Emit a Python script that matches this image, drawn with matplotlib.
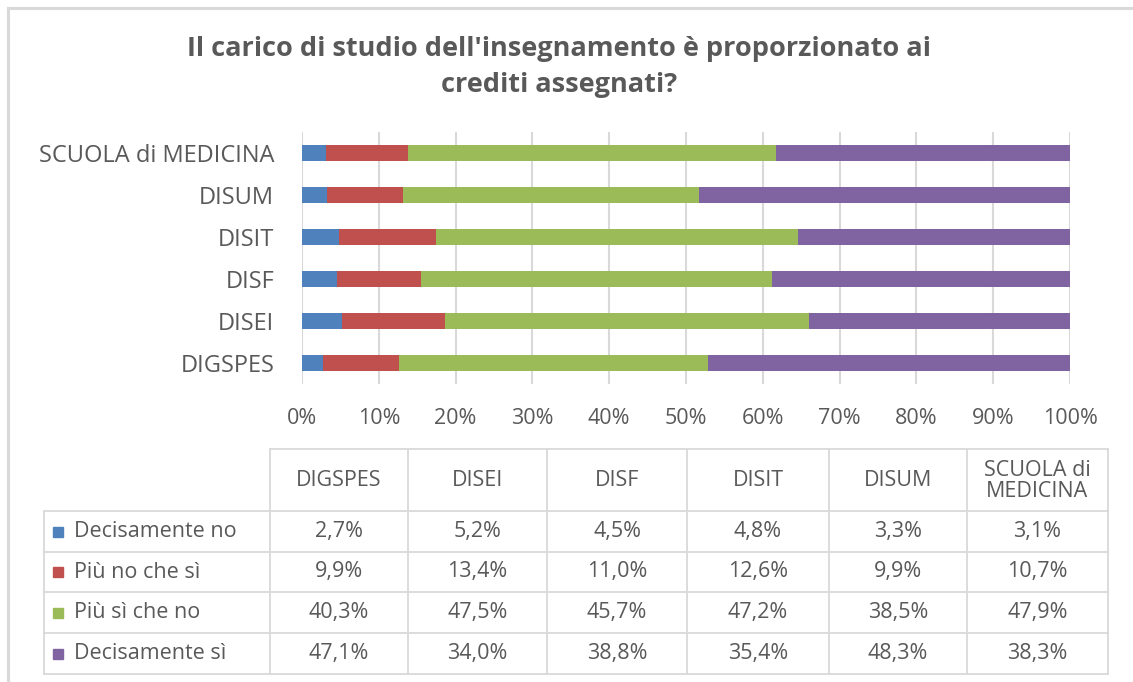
import matplotlib.pyplot as plt
import numpy as np

plt.rcParams['font.family'] = ['Open Sans', 'DejaVu Sans']

departments = ['DIGSPES', 'DISEI', 'DISF', 'DISIT', 'DISUM', 'SCUOLA di MEDICINA']
header_labels = ['DIGSPES', 'DISEI', 'DISF', 'DISIT', 'DISUM', 'SCUOLA di\nMEDICINA']
answers = ['Decisamente no', 'Più no che sì', 'Più sì che no', 'Decisamente sì']
decisamente_no = [2.7, 5.2, 4.5, 4.8, 3.3, 3.1]
piu_no_che_si = [9.9, 13.4, 11.0, 12.6, 9.9, 10.7]
piu_si_che_no = [40.3, 47.5, 45.7, 47.2, 38.5, 47.9]
decisamente_si = [47.1, 34.0, 38.8, 35.4, 48.3, 38.3]
colors = ['#4F81BD', '#C0504D', '#9BBB59', '#8064A2']

series = np.array([decisamente_no, piu_no_che_si, piu_si_che_no, decisamente_si])
shares = series / series.sum(axis=0)  # 100% stacked

W, H = 1133, 682
fig = plt.figure(figsize=(W / 100, H / 100), dpi=100)
txt = '#595959'
grid = '#d9d9d9'

# background layer in pixel coordinates: frame + table
bg = fig.add_axes([0, 0, 1, 1])
bg.set_xlim(0, W)
bg.set_ylim(H, 0)
bg.axis('off')
bg.plot([8, 8], [8, H], color=grid, lw=2.2)
bg.plot([8, W], [8, 8], color=grid, lw=2.2)

bg.text(559, 67, "Il carico di studio dell'insegnamento è proporzionato ai\ncrediti assegnati?",
        ha='center', va='center', fontsize=19.5, fontweight='bold', color=txt,
        linespacing=1.5)

# bar chart
ax = fig.add_axes([302 / W, 1 - 384 / H, 768 / W, 252 / H])
y = np.arange(len(departments))
left = np.zeros(len(departments))
for share, col, name in zip(shares, colors, answers):
    ax.barh(y, share, left=left, height=0.38, color=col, label=name, zorder=3)
    left += share
ax.set_xlim(0, 1)
ax.set_ylim(-0.5, len(departments) - 0.5)
ax.set_xticks(np.linspace(0, 1, 11))
ax.set_xticklabels([f'{int(round(v * 100))}%' for v in np.linspace(0, 1, 11)])
ax.set_yticks(y)
ax.set_yticklabels(departments)
ax.tick_params(axis='both', length=0, labelcolor=txt)
ax.tick_params(axis='x', pad=17, labelsize=15.5)
ax.tick_params(axis='y', pad=20, labelsize=17)
ax.grid(axis='x', color=grid, lw=1.5, zorder=0)
for s in ax.spines.values():
    s.set_visible(False)

# data table
col_x = [270, 408, 547, 687, 829, 967, 1108]
row_y = [449, 511, 552, 592, 633, 674]
tl = 44
lw = 1.3
bg.plot([col_x[0], col_x[-1]], [row_y[0], row_y[0]], color=grid, lw=lw)
for ry in row_y[1:]:
    bg.plot([tl, col_x[-1]], [ry, ry], color=grid, lw=lw)
bg.plot([tl, tl], [row_y[1], row_y[-1]], color=grid, lw=lw)
for cx in col_x:
    bg.plot([cx, cx], [row_y[0], row_y[-1]], color=grid, lw=lw)

fs = 15.5
for j, lab in enumerate(header_labels):
    cx = (col_x[j] + col_x[j + 1]) / 2
    bg.text(cx, (row_y[0] + row_y[1]) / 2 + 1, lab, ha='center', va='center',
            fontsize=fs, color=txt, linespacing=1.05)
for i, name in enumerate(answers):
    cy = (row_y[i + 1] + row_y[i + 2]) / 2
    bg.add_patch(plt.Rectangle((53, cy - 5), 10, 10, color=colors[i]))
    bg.text(74, cy, name, ha='left', va='center', fontsize=fs, color=txt)
    for j in range(len(departments)):
        cx = (col_x[j] + col_x[j + 1]) / 2
        val = f'{series[i, j]:.1f}%'.replace('.', ',')
        bg.text(cx, cy, val, ha='center', va='center', fontsize=fs, color=txt)

fig.savefig('out.png', dpi=100)
